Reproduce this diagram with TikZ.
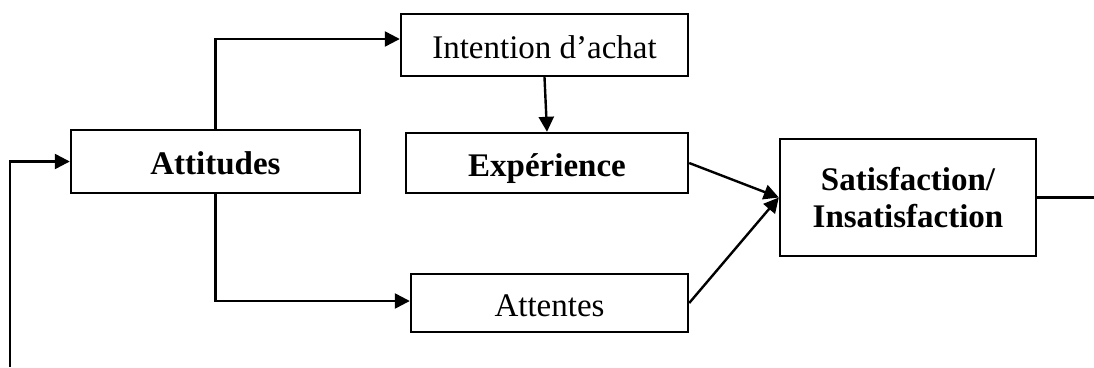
\documentclass[tikz,border=0pt]{standalone}
\usepackage{fontspec}
\setmainfont{Liberation Serif}
\usetikzlibrary{arrows.meta}
\begin{document}
\begin{tikzpicture}[x=1pt,y=-1pt,
  box/.style={draw,line width=2.4pt,inner sep=0pt,align=center,
    font=\fontsize{33}{37}\selectfont},
  one/.style={text height=29pt,text depth=3pt},
  bbox/.style={box,font=\fontsize{33}{37}\selectfont\bfseries},
  conn/.style={line width=2.4pt},
  arr/.style={conn,-{Triangle[length=15pt,width=15pt]}}]
\useasboundingbox (0,0) rectangle (1094,367);
\node[bbox,one,minimum width=289pt,minimum height=63pt] (att) at (215.5,161.5) {Attitudes};
\node[box,one,minimum width=287pt,minimum height=62pt] (int) at (544.5,45) {Intention d’achat};
\node[bbox,one,minimum width=282pt,minimum height=60pt] (exp) at (547,163) {Expérience};
\node[box,one,minimum width=277pt,minimum height=58pt] (atn) at (549.5,303) {Attentes};
\node[bbox,minimum width=256pt,minimum height=117pt] (sat) at (908,197.5) {Satisfaction/\\Insatisfaction};
\coordinate (fb) at (10,367);
\coordinate (out) at (1094,197.5);
\draw[arr] (fb) |- (att.west);
\draw[arr] (att.north) |- ([yshift=6pt]int.west);
\draw[arr] (att.south) |- ([yshift=2pt]atn.west);
\draw[arr] (int.south) -- (exp.north);
\draw[arr] (exp.east) -- (sat.west);
\draw[arr] (atn.east) -- (sat.west);
\draw[conn] (sat.east) -- (out);
\end{tikzpicture}
\end{document}
